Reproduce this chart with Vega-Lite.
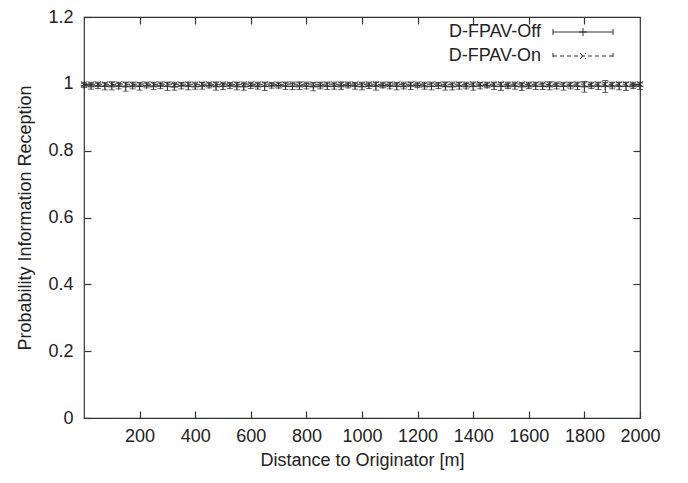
{
  "$schema": "https://vega.github.io/schema/vega-lite/v6.json",
  "width": 556,
  "height": 401,
  "autosize": "none",
  "padding": {"left": 84, "top": 17, "right": 48, "bottom": 65},
  "background": "white",
  "config": {
    "view": {"stroke": "#333", "strokeWidth": 1.2},
    "font": "Liberation Sans",
    "axis": {
      "labelFont": "Liberation Sans", "titleFont": "Liberation Sans",
      "labelFontSize": 18, "titleFontSize": 18, "labelColor": "#222", "titleColor": "#222",
      "titleFontWeight": "normal", "domain": false, "grid": false,
      "tickColor": "#333", "tickSize": -7, "tickWidth": 1.2
    },
    "legend": {"labelFont": "Liberation Sans", "labelFontSize": 18, "labelColor": "#222"}
  },
  "data": {"values": [
    {"d":0,"s":"D-FPAV-Off","m":0.995,"e":0.006},{"d":25,"s":"D-FPAV-Off","m":0.993,"e":0.009},{"d":50,"s":"D-FPAV-Off","m":0.994,"e":0.008},{"d":75,"s":"D-FPAV-Off","m":0.992,"e":0.010},{"d":100,"s":"D-FPAV-Off","m":0.994,"e":0.012},{"d":125,"s":"D-FPAV-Off","m":0.993,"e":0.008},{"d":150,"s":"D-FPAV-Off","m":0.991,"e":0.013},{"d":175,"s":"D-FPAV-Off","m":0.994,"e":0.009},{"d":200,"s":"D-FPAV-Off","m":0.992,"e":0.011},{"d":225,"s":"D-FPAV-Off","m":0.995,"e":0.007},
    {"d":250,"s":"D-FPAV-Off","m":0.993,"e":0.010},{"d":275,"s":"D-FPAV-Off","m":0.994,"e":0.008},{"d":300,"s":"D-FPAV-Off","m":0.992,"e":0.012},{"d":325,"s":"D-FPAV-Off","m":0.991,"e":0.010},{"d":350,"s":"D-FPAV-Off","m":0.994,"e":0.009},{"d":375,"s":"D-FPAV-Off","m":0.993,"e":0.011},{"d":400,"s":"D-FPAV-Off","m":0.992,"e":0.008},{"d":425,"s":"D-FPAV-Off","m":0.994,"e":0.010},{"d":450,"s":"D-FPAV-Off","m":0.995,"e":0.007},{"d":475,"s":"D-FPAV-Off","m":0.993,"e":0.012},
    {"d":500,"s":"D-FPAV-Off","m":0.992,"e":0.009},{"d":525,"s":"D-FPAV-Off","m":0.994,"e":0.008},{"d":550,"s":"D-FPAV-Off","m":0.993,"e":0.011},{"d":575,"s":"D-FPAV-Off","m":0.991,"e":0.010},{"d":600,"s":"D-FPAV-Off","m":0.994,"e":0.008},{"d":625,"s":"D-FPAV-Off","m":0.993,"e":0.009},{"d":650,"s":"D-FPAV-Off","m":0.992,"e":0.012},{"d":675,"s":"D-FPAV-Off","m":0.994,"e":0.007},{"d":700,"s":"D-FPAV-Off","m":0.995,"e":0.008},{"d":725,"s":"D-FPAV-Off","m":0.993,"e":0.010},
    {"d":750,"s":"D-FPAV-Off","m":0.992,"e":0.009},{"d":775,"s":"D-FPAV-Off","m":0.994,"e":0.011},{"d":800,"s":"D-FPAV-Off","m":0.993,"e":0.008},{"d":825,"s":"D-FPAV-Off","m":0.991,"e":0.012},{"d":850,"s":"D-FPAV-Off","m":0.994,"e":0.009},{"d":875,"s":"D-FPAV-Off","m":0.993,"e":0.010},{"d":900,"s":"D-FPAV-Off","m":0.992,"e":0.008},{"d":925,"s":"D-FPAV-Off","m":0.994,"e":0.011},{"d":950,"s":"D-FPAV-Off","m":0.995,"e":0.007},{"d":975,"s":"D-FPAV-Off","m":0.993,"e":0.009},
    {"d":1000,"s":"D-FPAV-Off","m":0.992,"e":0.010},{"d":1025,"s":"D-FPAV-Off","m":0.994,"e":0.008},{"d":1050,"s":"D-FPAV-Off","m":0.993,"e":0.012},{"d":1075,"s":"D-FPAV-Off","m":0.995,"e":0.007},{"d":1100,"s":"D-FPAV-Off","m":0.994,"e":0.009},{"d":1125,"s":"D-FPAV-Off","m":0.992,"e":0.010},{"d":1150,"s":"D-FPAV-Off","m":0.993,"e":0.008},{"d":1175,"s":"D-FPAV-Off","m":0.994,"e":0.011},{"d":1200,"s":"D-FPAV-Off","m":0.995,"e":0.006},{"d":1225,"s":"D-FPAV-Off","m":0.993,"e":0.009},
    {"d":1250,"s":"D-FPAV-Off","m":0.992,"e":0.010},{"d":1275,"s":"D-FPAV-Off","m":0.994,"e":0.008},{"d":1300,"s":"D-FPAV-Off","m":0.993,"e":0.012},{"d":1325,"s":"D-FPAV-Off","m":0.991,"e":0.009},{"d":1350,"s":"D-FPAV-Off","m":0.994,"e":0.010},{"d":1375,"s":"D-FPAV-Off","m":0.993,"e":0.008},{"d":1400,"s":"D-FPAV-Off","m":0.992,"e":0.011},{"d":1425,"s":"D-FPAV-Off","m":0.994,"e":0.009},{"d":1450,"s":"D-FPAV-Off","m":0.995,"e":0.007},{"d":1475,"s":"D-FPAV-Off","m":0.993,"e":0.010},
    {"d":1500,"s":"D-FPAV-Off","m":0.992,"e":0.012},{"d":1525,"s":"D-FPAV-Off","m":0.994,"e":0.008},{"d":1550,"s":"D-FPAV-Off","m":0.993,"e":0.009},{"d":1575,"s":"D-FPAV-Off","m":0.991,"e":0.011},{"d":1600,"s":"D-FPAV-Off","m":0.994,"e":0.008},{"d":1625,"s":"D-FPAV-Off","m":0.993,"e":0.010},{"d":1650,"s":"D-FPAV-Off","m":0.992,"e":0.009},{"d":1675,"s":"D-FPAV-Off","m":0.994,"e":0.012},{"d":1700,"s":"D-FPAV-Off","m":0.993,"e":0.008},{"d":1725,"s":"D-FPAV-Off","m":0.992,"e":0.011},
    {"d":1750,"s":"D-FPAV-Off","m":0.994,"e":0.009},{"d":1775,"s":"D-FPAV-Off","m":0.993,"e":0.010},{"d":1800,"s":"D-FPAV-Off","m":0.991,"e":0.016},{"d":1825,"s":"D-FPAV-Off","m":0.994,"e":0.008},{"d":1850,"s":"D-FPAV-Off","m":0.993,"e":0.010},{"d":1875,"s":"D-FPAV-Off","m":0.992,"e":0.018},{"d":1900,"s":"D-FPAV-Off","m":0.994,"e":0.009},{"d":1925,"s":"D-FPAV-Off","m":0.993,"e":0.011},{"d":1950,"s":"D-FPAV-Off","m":0.992,"e":0.012},{"d":1975,"s":"D-FPAV-Off","m":0.994,"e":0.008},
    {"d":2000,"s":"D-FPAV-Off","m":0.993,"e":0.010},
    {"d":0,"s":"D-FPAV-On","m":0.999,"e":0.006},{"d":25,"s":"D-FPAV-On","m":0.998,"e":0.007},{"d":50,"s":"D-FPAV-On","m":0.999,"e":0.006},{"d":75,"s":"D-FPAV-On","m":0.999,"e":0.005},{"d":100,"s":"D-FPAV-On","m":0.998,"e":0.007},{"d":125,"s":"D-FPAV-On","m":0.999,"e":0.006},{"d":150,"s":"D-FPAV-On","m":0.999,"e":0.006},{"d":175,"s":"D-FPAV-On","m":0.998,"e":0.007},{"d":200,"s":"D-FPAV-On","m":0.999,"e":0.005},{"d":225,"s":"D-FPAV-On","m":0.999,"e":0.006},
    {"d":250,"s":"D-FPAV-On","m":0.998,"e":0.007},{"d":275,"s":"D-FPAV-On","m":0.999,"e":0.006},{"d":300,"s":"D-FPAV-On","m":0.999,"e":0.006},{"d":325,"s":"D-FPAV-On","m":0.998,"e":0.007},{"d":350,"s":"D-FPAV-On","m":0.999,"e":0.005},{"d":375,"s":"D-FPAV-On","m":0.999,"e":0.006},{"d":400,"s":"D-FPAV-On","m":0.998,"e":0.007},{"d":425,"s":"D-FPAV-On","m":0.999,"e":0.006},{"d":450,"s":"D-FPAV-On","m":0.999,"e":0.006},{"d":475,"s":"D-FPAV-On","m":0.998,"e":0.007},
    {"d":500,"s":"D-FPAV-On","m":0.999,"e":0.006},{"d":525,"s":"D-FPAV-On","m":0.999,"e":0.005},{"d":550,"s":"D-FPAV-On","m":0.998,"e":0.007},{"d":575,"s":"D-FPAV-On","m":0.999,"e":0.006},{"d":600,"s":"D-FPAV-On","m":0.999,"e":0.006},{"d":625,"s":"D-FPAV-On","m":0.998,"e":0.007},{"d":650,"s":"D-FPAV-On","m":0.999,"e":0.006},{"d":675,"s":"D-FPAV-On","m":0.999,"e":0.005},{"d":700,"s":"D-FPAV-On","m":0.998,"e":0.007},{"d":725,"s":"D-FPAV-On","m":0.999,"e":0.006},
    {"d":750,"s":"D-FPAV-On","m":0.999,"e":0.006},{"d":775,"s":"D-FPAV-On","m":0.998,"e":0.007},{"d":800,"s":"D-FPAV-On","m":0.999,"e":0.006},{"d":825,"s":"D-FPAV-On","m":0.999,"e":0.005},{"d":850,"s":"D-FPAV-On","m":0.998,"e":0.007},{"d":875,"s":"D-FPAV-On","m":0.999,"e":0.006},{"d":900,"s":"D-FPAV-On","m":0.999,"e":0.006},{"d":925,"s":"D-FPAV-On","m":0.998,"e":0.007},{"d":950,"s":"D-FPAV-On","m":0.999,"e":0.006},{"d":975,"s":"D-FPAV-On","m":0.999,"e":0.005},
    {"d":1000,"s":"D-FPAV-On","m":0.998,"e":0.007},{"d":1025,"s":"D-FPAV-On","m":0.999,"e":0.006},{"d":1050,"s":"D-FPAV-On","m":0.999,"e":0.006},{"d":1075,"s":"D-FPAV-On","m":0.998,"e":0.007},{"d":1100,"s":"D-FPAV-On","m":0.999,"e":0.006},{"d":1125,"s":"D-FPAV-On","m":0.999,"e":0.005},{"d":1150,"s":"D-FPAV-On","m":0.998,"e":0.007},{"d":1175,"s":"D-FPAV-On","m":0.999,"e":0.006},{"d":1200,"s":"D-FPAV-On","m":0.999,"e":0.006},{"d":1225,"s":"D-FPAV-On","m":0.998,"e":0.007},
    {"d":1250,"s":"D-FPAV-On","m":0.999,"e":0.006},{"d":1275,"s":"D-FPAV-On","m":0.999,"e":0.005},{"d":1300,"s":"D-FPAV-On","m":0.998,"e":0.007},{"d":1325,"s":"D-FPAV-On","m":0.999,"e":0.006},{"d":1350,"s":"D-FPAV-On","m":0.999,"e":0.006},{"d":1375,"s":"D-FPAV-On","m":0.998,"e":0.007},{"d":1400,"s":"D-FPAV-On","m":0.999,"e":0.006},{"d":1425,"s":"D-FPAV-On","m":0.999,"e":0.005},{"d":1450,"s":"D-FPAV-On","m":0.998,"e":0.007},{"d":1475,"s":"D-FPAV-On","m":0.999,"e":0.006},
    {"d":1500,"s":"D-FPAV-On","m":0.999,"e":0.006},{"d":1525,"s":"D-FPAV-On","m":0.998,"e":0.007},{"d":1550,"s":"D-FPAV-On","m":0.999,"e":0.006},{"d":1575,"s":"D-FPAV-On","m":0.999,"e":0.005},{"d":1600,"s":"D-FPAV-On","m":0.998,"e":0.007},{"d":1625,"s":"D-FPAV-On","m":0.999,"e":0.006},{"d":1650,"s":"D-FPAV-On","m":0.999,"e":0.006},{"d":1675,"s":"D-FPAV-On","m":0.998,"e":0.007},{"d":1700,"s":"D-FPAV-On","m":0.999,"e":0.006},{"d":1725,"s":"D-FPAV-On","m":0.999,"e":0.005},
    {"d":1750,"s":"D-FPAV-On","m":0.998,"e":0.007},{"d":1775,"s":"D-FPAV-On","m":0.999,"e":0.006},{"d":1800,"s":"D-FPAV-On","m":0.999,"e":0.006},{"d":1825,"s":"D-FPAV-On","m":0.998,"e":0.007},{"d":1850,"s":"D-FPAV-On","m":0.999,"e":0.006},{"d":1875,"s":"D-FPAV-On","m":0.999,"e":0.005},{"d":1900,"s":"D-FPAV-On","m":0.998,"e":0.007},{"d":1925,"s":"D-FPAV-On","m":0.999,"e":0.006},{"d":1950,"s":"D-FPAV-On","m":0.999,"e":0.006},{"d":1975,"s":"D-FPAV-On","m":0.998,"e":0.007},
    {"d":2000,"s":"D-FPAV-On","m":0.999,"e":0.006}
  ]},
  "layer": [
    {
      "mark": {"type": "errorbar", "ticks": {"size": 6, "color": "#333"}, "rule": {"strokeWidth": 1, "color": "#333"}, "color": "#333"},
      "encoding": {
        "x": {"field": "d", "type": "quantitative", "scale": {"domain": [0, 2000]}, "axis": null},
        "y": {"field": "m", "type": "quantitative", "scale": {"domain": [0, 1.2]}, "axis": null},
        "yError": {"field": "e"},
        "detail": {"field": "s"}
      }
    },
    {
      "mark": {"type": "line", "color": "#333", "strokeWidth": 1},
      "encoding": {
        "x": {"field": "d", "type": "quantitative", "scale": {"domain": [0, 2000]},
          "axis": {"orient": "bottom", "values": [200,400,600,800,1000,1200,1400,1600,1800,2000], "format": "d", "title": "Distance to Originator [m]", "labelPadding": 16, "titlePadding": 6, "labelFlush": false}},
        "y": {"field": "m", "type": "quantitative", "scale": {"domain": [0, 1.2]},
          "axis": {"orient": "left", "values": [0,0.2,0.4,0.6,0.8,1,1.2], "format": "~g", "title": "Probability Information Reception", "labelPadding": 18, "titlePadding": 13}},
        "strokeDash": {"field": "s", "type": "nominal",
          "scale": {"domain": ["D-FPAV-Off", "D-FPAV-On"], "range": [[1, 0], [4, 3]]},
          "legend": {
            "title": null, "orient": "none", "legendX": 490, "legendY": 6,
            "symbolSize": 100, "rowPadding": 6, "padding": 0,
            "labelAlign": "right", "labelOffset": -51, "symbolStrokeWidth": 1,
            "symbolStrokeColor": "#333", "symbolType": "M-6,0L6,0",
            "encode": {"symbols": {"update": {
              "shape": {"signal": "datum.value == 'D-FPAV-Off' ? 'M-6,0L6,0M-6,-0.6L-6,0.6M6,-0.6L6,0.6M-0.8,0L0.8,0M0,-0.8L0,0.8' : 'M-6,0L6,0M-6,-0.6L-6,0.6M6,-0.6L6,0.6M-0.6,-0.6L0.6,0.6M-0.6,0.6L0.6,-0.6'"},
              "stroke": {"value": "#333"}
            }}}
          }
        }
      }
    },
    {
      "transform": [{"filter": "datum.s == 'D-FPAV-Off'"}],
      "mark": {"type": "point", "filled": false, "stroke": "#333", "strokeWidth": 1, "size": 49, "shape": "M-1,0L1,0M0,-1L0,1"},
      "encoding": {
        "x": {"field": "d", "type": "quantitative", "scale": {"domain": [0, 2000]},
          "axis": {"orient": "top", "values": [200,400,600,800,1000,1200,1400,1600,1800], "labels": false, "title": null}},
        "y": {"field": "m", "type": "quantitative", "scale": {"domain": [0, 1.2]},
          "axis": {"orient": "right", "values": [0.2,0.4,0.6,0.8,1], "labels": false, "title": null}}
      }
    },
    {
      "transform": [{"filter": "datum.s == 'D-FPAV-On'"}],
      "mark": {"type": "point", "filled": false, "stroke": "#333", "strokeWidth": 1, "size": 36, "shape": "M-1,-1L1,1M-1,1L1,-1"},
      "encoding": {
        "x": {"field": "d", "type": "quantitative", "scale": {"domain": [0, 2000]}, "axis": null},
        "y": {"field": "m", "type": "quantitative", "scale": {"domain": [0, 1.2]}, "axis": null}
      }
    }
  ]
}
